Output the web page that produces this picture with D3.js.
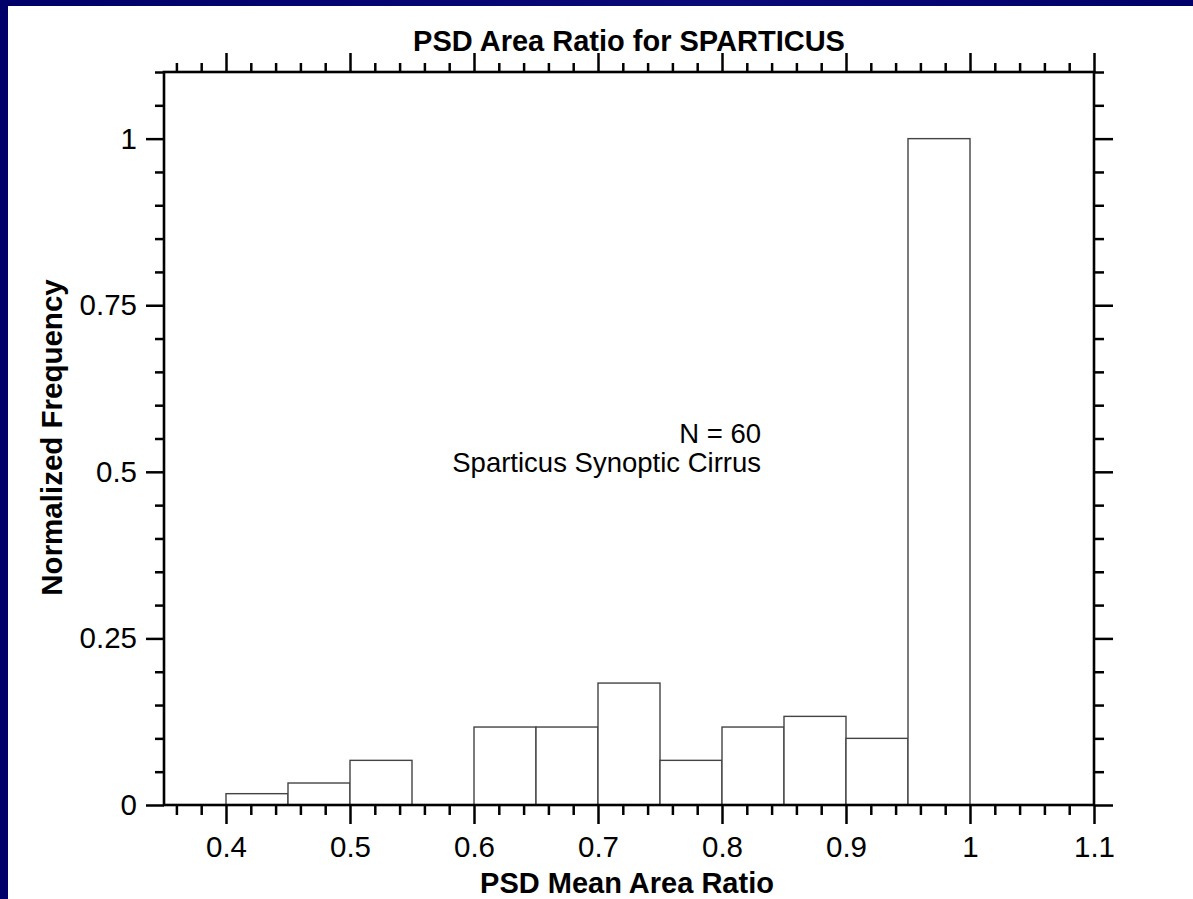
<!DOCTYPE html>
<html lang="en">
<head>
    <meta charset="UTF-8">
    <title>PSD Area Ratio for SPARTICUS</title>
    <script src="https://d3js.org/d3.v7.min.js"></script>
    <style>
        html, body {
            margin: 0;
            padding: 0;
            background: #00006c;
        }

        svg {
            display: block;
        }

        text {
            font-family: "Liberation Sans", Arial, Helvetica, sans-serif;
            fill: #000;
        }

        .tick line {
            stroke: #000;
            stroke-width: 2.5;
        }

        .tick text {
            font-size: 29.5px;
        }

        .bar {
            fill: #fff;
            stroke: #444;
            stroke-width: 1.4;
        }
    </style>
</head>

<body>
<svg id="chart" width="1193" height="899"></svg>

<script>
    // histogram bins (left edge) and normalized frequency
    const binStart = [0.40, 0.45, 0.50, 0.55, 0.60, 0.65, 0.70, 0.75, 0.80, 0.85, 0.90, 0.95];
    const binFreq  = [0.017, 0.033, 0.067, 0, 0.117, 0.117, 0.183, 0.067, 0.117, 0.133, 0.100, 1.0];
    const binWidth = 0.05;

    const xMajor = [0.4, 0.5, 0.6, 0.7, 0.8, 0.9, 1.0, 1.1];
    const xMinor = [0.36, 0.38, 0.42, 0.44, 0.46, 0.48, 0.52, 0.54, 0.56, 0.58, 0.62, 0.64, 0.66, 0.68,
                    0.72, 0.74, 0.76, 0.78, 0.82, 0.84, 0.86, 0.88, 0.92, 0.94, 0.96, 0.98,
                    1.02, 1.04, 1.06, 1.08];
    const yMajor = [0, 0.25, 0.5, 0.75, 1];
    const yMinor = [0.05, 0.1, 0.15, 0.2, 0.3, 0.35, 0.4, 0.45, 0.55, 0.6, 0.65, 0.7,
                    0.8, 0.85, 0.9, 0.95, 1.05, 1.1];

    const titleText = "PSD Area Ratio for SPARTICUS";
    const xTitle = "PSD Mean Area Ratio";
    const yTitle = "Normalized Frequency";
    const notes = ["N = 60", "Sparticus Synoptic Cirrus"];

    const svg = d3.select("#chart");

    // slide background: dark blue frame with white sheet
    const grad = svg.append("defs").append("linearGradient")
        .attr("id", "frame").attr("x1", 0).attr("y1", 0).attr("x2", 1).attr("y2", 0);
    grad.append("stop").attr("offset", "0%").attr("stop-color", "#00006a");
    grad.append("stop").attr("offset", "60%").attr("stop-color", "#0a0a78");
    grad.append("stop").attr("offset", "100%").attr("stop-color", "#00006a");

    svg.append("rect").attr("width", 1193).attr("height", 899).attr("fill", "url(#frame)");
    svg.append("rect").attr("x", 8).attr("y", 6).attr("width", 1185).attr("height", 893).attr("fill", "#fff");

    const x = d3.scaleLinear().domain([0.35, 1.1]).range([164, 1094]);
    const y = d3.scaleLinear().domain([0, 1.1]).range([805, 72]);

    const fmt = d => String(+d.toFixed(2));

    // bars
    svg.append("g")
        .selectAll("rect")
        .data(binStart.map((s, i) => ({ x0: s, v: binFreq[i] })).filter(d => d.v > 0))
        .join("rect")
        .attr("class", "bar")
        .attr("x", d => x(d.x0))
        .attr("y", d => y(d.v))
        .attr("width", d => x(d.x0 + binWidth) - x(d.x0))
        .attr("height", d => y(0) - y(d.v));

    // axes: major + minor ticks on all four sides
    function addAxis(axisFn, scale, vals, size, labels, transform) {
        const g = svg.append("g")
            .attr("transform", transform)
            .call(axisFn(scale).tickValues(vals).tickSize(size).tickSizeOuter(0)
                .tickPadding(labels ? 9 : 0)
                .tickFormat(labels ? fmt : ""));
        g.select(".domain").remove();
        return g;
    }

    addAxis(d3.axisBottom, x, xMinor, 10, false, `translate(0,${y(0)})`);
    addAxis(d3.axisBottom, x, xMajor, 19, true, `translate(0,${y(0)})`)
        .selectAll("text").attr("dy", "0.8em");
    addAxis(d3.axisTop, x, xMinor, 9, false, `translate(0,${y(1.1)})`);
    addAxis(d3.axisTop, x, xMajor, 19, false, `translate(0,${y(1.1)})`);

    addAxis(d3.axisLeft, y, yMinor, 9, false, `translate(${x(0.35)},0)`);
    addAxis(d3.axisLeft, y, yMajor, 18, true, `translate(${x(0.35)},0)`);
    addAxis(d3.axisRight, y, yMinor, 10, false, `translate(${x(1.1)},0)`);
    addAxis(d3.axisRight, y, yMajor, 19, false, `translate(${x(1.1)},0)`);

    // plot frame
    svg.append("rect")
        .attr("x", x(0.35)).attr("y", y(1.1))
        .attr("width", x(1.1) - x(0.35)).attr("height", y(0) - y(1.1))
        .attr("fill", "none").attr("stroke", "#000").attr("stroke-width", 2.6);

    // titles
    svg.append("text")
        .attr("x", (x(0.35) + x(1.1)) / 2).attr("y", 51)
        .attr("text-anchor", "middle")
        .style("font-size", "29px").style("font-weight", "bold")
        .text(titleText);

    svg.append("text")
        .attr("x", (x(0.35) + x(1.1)) / 2 - 2).attr("y", 893)
        .attr("text-anchor", "middle")
        .style("font-size", "29px").style("font-weight", "bold")
        .text(xTitle);

    svg.append("text")
        .attr("transform", `translate(62,${(y(0) + y(1.1)) / 2 - 1}) rotate(-90)`)
        .attr("text-anchor", "middle")
        .style("font-size", "29.5px").style("font-weight", "bold")
        .text(yTitle);

    // annotation
    svg.append("g")
        .selectAll("text")
        .data(notes)
        .join("text")
        .attr("x", 761)
        .attr("y", (d, i) => 443 + i * 29)
        .attr("text-anchor", "end")
        .style("font-size", "27.5px")
        .text(d => d);
</script>
</body>
</html>
